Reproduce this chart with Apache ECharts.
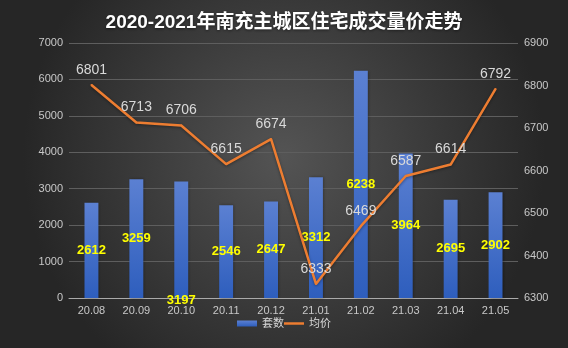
<!DOCTYPE html>
<html>
<head>
<meta charset="utf-8">
<script src="https://cdn.jsdelivr.net/npm/echarts@6/dist/echarts.min.js"></script>
<style>
  html, body { margin: 0; padding: 0; background: #333; }
  #chart { width: 568px; height: 348px; }
</style>
</head>
<body>
<div id="chart"></div>
<script>
// Monthly residential transactions in the Nanchong main urban area
const months = ['20.08', '20.09', '20.10', '20.11', '20.12', '21.01', '21.02', '21.03', '21.04', '21.05'];
const units = [2612, 3259, 3197, 2546, 2647, 3312, 6238, 3964, 2695, 2902];
const avgPrice = [6801, 6713, 6706, 6615, 6674, 6333, 6469, 6587, 6614, 6792];

const chart = echarts.init(document.getElementById('chart'));
const font = '"Liberation Sans", "Noto Sans CJK SC", sans-serif';

const barData = units.map((v, i) => {
  if (i === 2) {
    return { value: v, label: { position: 'insideBottom', distance: 0, offset: [0, 9] } };
  }
  return v;
});

chart.setOption({
  backgroundColor: {
    type: 'radial', x: 0.5, y: 0.45, r: 0.75,
    colorStops: [
      { offset: 0, color: '#545454' },
      { offset: 1, color: '#262626' }
    ]
  },
  textStyle: { fontFamily: font },
  title: {
    text: '2020-2021年南充主城区住宅成交量价走势',
    left: 'center',
    top: 8,
    textStyle: { color: '#ffffff', fontSize: 19, fontWeight: 'bold', fontFamily: font,
      textShadowColor: 'rgba(0,0,0,0.5)', textShadowBlur: 3, textShadowOffsetY: 1 }
  },
  legend: {
    bottom: 14,
    left: 'center',
    itemGap: 0,
    itemWidth: 20,
    itemHeight: 6,
    textStyle: { color: '#d9d9d9', fontSize: 11 },
    data: [
      { name: '套数', icon: 'rect' },
      { name: '均价', icon: 'path://M0,0 H20 V2.5 H0 Z', itemStyle: { color: '#ed7d31', opacity: 1 } }
    ]
  },
  grid: { left: 69, right: 50, top: 43, bottom: 50 },
  xAxis: {
    type: 'category',
    data: months,
    axisLine: { lineStyle: { color: '#aaaaaa', width: 1 } },
    axisTick: { show: false },
    axisLabel: { color: '#c8c8c8', fontSize: 11, margin: 7 }
  },
  yAxis: [
    {
      type: 'value', min: 0, max: 7000, interval: 1000,
      axisLine: { show: false }, axisTick: { show: false },
      axisLabel: { color: '#c8c8c8', fontSize: 11, margin: 6, formatter: v => String(v) },
      splitLine: { lineStyle: { color: '#5e5e5e', width: 1 } }
    },
    {
      type: 'value', min: 6300, max: 6900, interval: 100,
      axisLine: { show: false }, axisTick: { show: false },
      axisLabel: { color: '#c8c8c8', fontSize: 11, margin: 6, formatter: v => String(v) },
      splitLine: { show: false }
    }
  ],
  series: [
    {
      name: '套数',
      type: 'bar',
      data: barData,
      barWidth: '31%',
      itemStyle: {
        color: {
          type: 'linear', x: 0, y: 0, x2: 0, y2: 1,
          colorStops: [
            { offset: 0, color: '#5b80d2' },
            { offset: 1, color: '#2e5ebd' }
          ]
        },
        shadowColor: 'rgba(0,0,0,0.35)', shadowBlur: 3, shadowOffsetX: 1
      },
      label: {
        show: true,
        position: 'inside',
        color: '#ffff00',
        fontSize: 13,
        fontWeight: 'bold'
      }
    },
    {
      name: '均价',
      type: 'line',
      yAxisIndex: 1,
      data: avgPrice,
      symbol: 'circle',
      symbolSize: 2,
      showSymbol: true,
      lineStyle: { color: '#ed7d31', width: 2.5, shadowColor: 'rgba(0,0,0,0.4)', shadowBlur: 3, shadowOffsetY: 1 },
      itemStyle: { color: '#ed7d31' },
      label: {
        show: true,
        position: 'top',
        distance: 7,
        color: '#d9d9d9',
        fontSize: 14
      },
      labelLayout: { hideOverlap: false },
      z: 3
    }
  ]
});
</script>
</body>
</html>
